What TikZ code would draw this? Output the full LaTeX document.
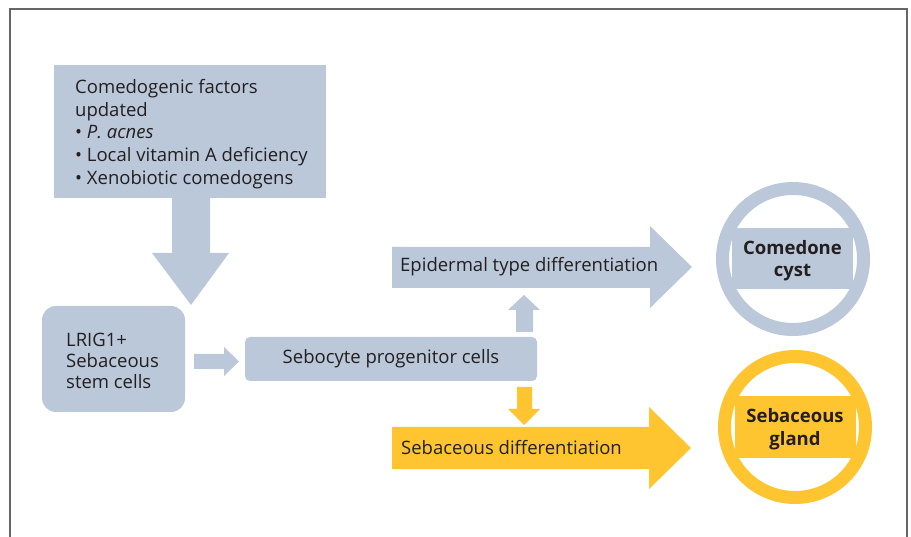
\documentclass[tikz,border=0pt]{standalone}
\usepackage{fontspec}
\setmainfont{Open Sans}
\definecolor{bgray}{HTML}{BBC8DA}
\definecolor{yel}{HTML}{FFC530}
\definecolor{txt}{HTML}{231F20}
\definecolor{frame}{HTML}{666666}
\tikzset{
  txtstyle/.style={text=txt, font=\fontsize{18.5}{22.7}\selectfont, inner sep=0pt},
  ringstyle/.style={circle, draw=#1, line width=13pt, minimum size=141pt, inner sep=0pt},
  labelbox/.style={fill=#1, minimum width=121pt, minimum height=61pt, inner sep=0pt},
  labeltext/.style={align=center, inner sep=0pt, text=txt, font=\fontsize{18.5}{22.5}\selectfont\bfseries}
}
\begin{document}
\begin{tikzpicture}[x=1pt,y=-1pt]
\useasboundingbox (0,0) rectangle (911,537);
% frame
\draw[frame, line width=1.5pt] (10,537) -- (10,9) -- (907,9) -- (907,537);
% top box
\fill[bgray] (54,65) rectangle (326,198);
\node[txtstyle, anchor=north west, align=left] (factors) at (75,79)
  {Comedogenic factors\\updated\\• \textit{P. acnes}\\• Local vitamin A deficiency\\• Xenobiotic comedogens};
% down arrow
\fill[bgray] (172,198) -- (210,198) -- (210,253) -- (229,253) -- (191,305) -- (152,253) -- (172,253) -- cycle;
% LRIG1 box
\fill[bgray, rounded corners=14pt] (42,306) rectangle (185,412);
\node[txtstyle, font=\fontsize{18.5}{21}\selectfont, anchor=west, align=left] (stem) at (66,361) {LRIG1+\\Sebaceous\\stem cells};
% small right arrow
\fill[bgray] (194,354) -- (224,354) -- (224,347) -- (239,361.5) -- (224,376) -- (224,369) -- (194,369) -- cycle;
% sebocyte box
\fill[bgray, rounded corners=5pt] (245,337) rectangle (537,381);
\node[txtstyle] (seb) at (391,359) {Sebocyte progenitor cells};
% up arrow blue
\fill[bgray] (516,332) -- (533,332) -- (533,310) -- (540,310) -- (524,295) -- (508,310) -- (516,310) -- cycle;
% down arrow yellow
\fill[yel] (517,387) -- (532,387) -- (532,409) -- (540,409) -- (524,425) -- (508,409) -- (517,409) -- cycle;
% epidermal arrow
\fill[bgray] (392,247) -- (650,247) -- (650,226) -- (692,267) -- (650,308) -- (650,288) -- (392,288) -- cycle;
\node[txtstyle, anchor=west] (epi) at (400,267) {Epidermal type differentiation};
% sebaceous arrow
\fill[yel] (392,427) -- (649,427) -- (649,407) -- (691,448) -- (649,489) -- (649,469) -- (392,469) -- cycle;
\node[txtstyle, anchor=west] (sebd) at (401,448) {Sebaceous differentiation};
% comedone cyst
\node[ringstyle=bgray] (ring1) at (793,259) {};
\node[labelbox=bgray] (cystbox) at (792.5,258.5) {};
\node[labeltext] (cyst) at (792.5,260.5) {Comedone\\cyst};
% sebaceous gland
\node[ringstyle=yel] (ring2) at (795,427) {};
\node[labelbox=yel] (glandbox) at (795,427) {};
\node[labeltext] (gland) at (795,429) {Sebaceous\\gland};
\end{tikzpicture}
\end{document}
